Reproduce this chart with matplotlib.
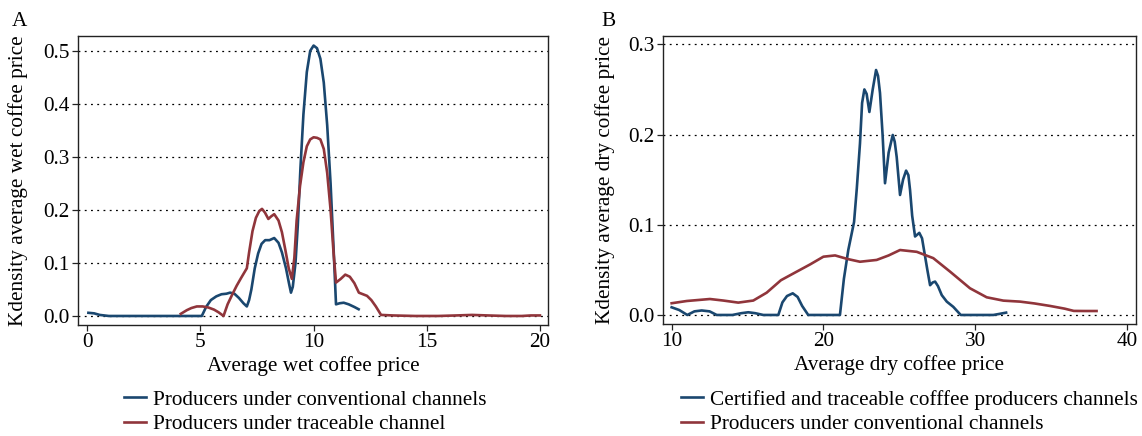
import matplotlib
matplotlib.use("Agg")
import matplotlib.pyplot as plt

# ---------------- data ----------------
# Panel A: average wet coffee price
wet_conv_x = [0.05, 0.3, 0.55, 0.95, 2.0, 3.0, 4.0, 5.06, 5.25, 5.46, 5.7, 5.93, 6.15, 6.31, 6.5, 6.7, 6.9, 7.05,
              7.15, 7.25, 7.4, 7.55, 7.7, 7.86, 8.05, 8.26, 8.45, 8.6, 8.78, 8.92, 9.0, 9.08, 9.2, 9.3, 9.42,
              9.55, 9.7, 9.85, 10.0, 10.15, 10.3, 10.45, 10.6, 10.75, 10.88, 10.99, 11.15, 11.33, 11.55, 11.8, 11.99]
wet_conv_y = [0.006, 0.005, 0.002, 0.0, 0.0, 0.0, 0.0, 0.0, 0.017, 0.03, 0.037, 0.041, 0.042, 0.044, 0.042, 0.034,
              0.024, 0.018, 0.03, 0.05, 0.09, 0.118, 0.136, 0.143, 0.143, 0.147, 0.138, 0.12, 0.09, 0.06, 0.044,
              0.055, 0.1, 0.17, 0.28, 0.38, 0.46, 0.5, 0.51, 0.505, 0.485, 0.44, 0.36, 0.25, 0.13, 0.022, 0.024,
              0.025, 0.022, 0.017, 0.0127]

wet_trace_x = [4.13, 4.4, 4.6, 4.84, 5.1, 5.35, 5.6, 5.8, 6.02, 6.2, 6.4, 6.6, 6.8, 7.05, 7.15, 7.3, 7.45, 7.6,
               7.72, 7.85, 8.0, 8.13, 8.26, 8.45, 8.6, 8.75, 8.9, 9.04, 9.15, 9.25, 9.4, 9.55, 9.7, 9.85, 10.0,
               10.15, 10.3, 10.45, 10.6, 10.75, 10.88, 10.99, 11.2, 11.4, 11.6, 11.8, 12.0, 12.18, 12.36, 12.55,
               12.75, 12.98, 13.5, 14.5, 15.5, 16.3, 17.0, 17.7, 18.5, 19.2, 19.6, 20.0]
wet_trace_y = [0.004, 0.011, 0.015, 0.018, 0.018, 0.016, 0.012, 0.007, 0.0, 0.022, 0.04, 0.057, 0.072, 0.09,
               0.12, 0.16, 0.185, 0.198, 0.202, 0.195, 0.183, 0.188, 0.192, 0.18, 0.158, 0.125, 0.09, 0.07, 0.11,
               0.18, 0.245, 0.29, 0.32, 0.333, 0.337, 0.336, 0.333, 0.315, 0.27, 0.2, 0.12, 0.063, 0.07, 0.078,
               0.074, 0.062, 0.044, 0.041, 0.038, 0.03, 0.018, 0.002, 0.001, 0.0, 0.0, 0.001, 0.002, 0.001, 0.0,
               0.0, 0.001, 0.001]

# Panel B: average dry coffee price
dry_cert_x = [10.0, 10.5, 11.03, 11.5, 11.98, 12.5, 12.97, 14.0, 14.6, 15.05, 15.5, 16.04, 17.03, 17.3, 17.6,
              17.98, 18.3, 18.6, 19.0, 21.09, 21.35, 21.64, 22.02, 22.2, 22.41, 22.55, 22.7, 22.85, 23.03, 23.25,
              23.47, 23.6, 23.73, 23.9, 24.06, 24.3, 24.57, 24.7, 24.83, 25.05, 25.25, 25.45, 25.6, 25.71, 25.85,
              26.04, 26.32, 26.5, 26.63, 26.85, 27.03, 27.2, 27.36, 27.55, 27.8, 28.13, 28.56, 29.05, 31.2,
              31.6, 32.04]
dry_cert_y = [0.0085, 0.0055, 0.0, 0.004, 0.005, 0.004, 0.0, 0.0, 0.002, 0.003, 0.002, 0.0, 0.0, 0.014, 0.021,
              0.024, 0.02, 0.01, 0.0, 0.0, 0.04, 0.072, 0.103, 0.14, 0.19, 0.235, 0.25, 0.245, 0.225, 0.25, 0.2715,
              0.265, 0.246, 0.2, 0.146, 0.18, 0.1995, 0.192, 0.175, 0.133, 0.15, 0.16, 0.155, 0.1385, 0.11, 0.087,
              0.091, 0.085, 0.072, 0.05, 0.033, 0.036, 0.037, 0.032, 0.022, 0.0148, 0.009, 0.0, 0.0, 0.0012, 0.0026]

dry_conv_x = [10.0, 11.0, 12.52, 13.4, 14.39, 15.38, 16.26, 17.2, 18.02, 19.12, 20.0, 20.77, 21.6, 22.41, 23.51,
              24.3, 25.05, 26.15, 27.24, 28.35, 29.66, 30.76, 31.86, 32.96, 33.9, 34.94, 35.9, 36.5, 37.2, 38.0]
dry_conv_y = [0.013, 0.0155, 0.0177, 0.016, 0.0137, 0.016, 0.0247, 0.0385, 0.046, 0.056, 0.0646, 0.066, 0.062,
              0.059, 0.061, 0.066, 0.072, 0.070, 0.063, 0.048, 0.0296, 0.0196, 0.0159, 0.0148, 0.0128, 0.0100,
              0.007, 0.0045, 0.0044, 0.0044]

wet_xticks = [0, 5, 10, 15, 20]
wet_yticks = [0.0, 0.1, 0.2, 0.3, 0.4, 0.5]
dry_xticks = [10, 20, 30, 40]
dry_yticks = [0.0, 0.1, 0.2, 0.3]

# ---------------- style ----------------
plt.rcParams['font.family'] = ['Liberation Serif', 'DejaVu Serif']
FS = 15.3
BLUE = '#1a476f'
RED = '#90353b'
LW = 1.9

fig = plt.figure(figsize=(11.42, 4.36), dpi=100)
W, H = 1142, 436


def make_axes(l, r, t, b):
    return fig.add_axes([l / W, 1 - b / H, (r - l) / W, (b - t) / H])


def style(ax, xticks, yticks, xlim, ylim, xlabel, ylabel, ylab_x):
    ax.set_xlim(*xlim)
    ax.set_ylim(*ylim)
    ax.set_xticks(xticks)
    ax.set_xticklabels([str(v) for v in xticks])
    ax.set_yticks(yticks)
    ax.set_yticklabels([f"{v:.1f}" for v in yticks])
    for yv in yticks:
        ax.axhline(yv, color='black', lw=0.9, ls=(0, (1.5, 3.5)), zorder=0)
    for s in ax.spines.values():
        s.set_color('#222222')
        s.set_linewidth(1.0)
    ax.tick_params(axis='both', direction='out', length=4, width=0.9, color='#222222',
                   labelsize=FS, pad=2)
    ax.set_xlabel(xlabel, fontsize=FS, labelpad=3)
    ax.set_ylabel(ylabel, fontsize=FS)
    ax.yaxis.set_label_coords(ylab_x, 0.5)


# Panel A
axA = make_axes(78, 548.3, 36, 325)
lA1, = axA.plot(wet_conv_x, wet_conv_y, color=BLUE, lw=LW, solid_joinstyle='round')
lA2, = axA.plot(wet_trace_x, wet_trace_y, color=RED, lw=LW, solid_joinstyle='round')
style(axA, wet_xticks, wet_yticks, (-0.41, 20.37), (-0.017, 0.528),
      'Average wet coffee price', 'Kdensity average wet coffee price', (28 - 78) / (548.3 - 78))
fig.text(12 / W, 1 - 21 / H, 'A', fontsize=FS, va='center', ha='left')
fig.legend([lA1, lA2], ['Producers under conventional channels', 'Producers under traceable channel'],
           loc='upper left', bbox_to_anchor=(124 / W, 1 - 390 / H), frameon=False, fontsize=FS,
           handlelength=1.05, handletextpad=0.3, labelspacing=0.2, borderpad=0, borderaxespad=0)

# Panel B
axB = make_axes(662.7, 1136, 36, 324)
lB1, = axB.plot(dry_cert_x, dry_cert_y, color=BLUE, lw=LW, solid_joinstyle='round')
lB2, = axB.plot(dry_conv_x, dry_conv_y, color=RED, lw=LW, solid_joinstyle='round')
style(axB, dry_xticks, dry_yticks, (9.41, 40.6), (-0.01, 0.3092),
      'Average dry coffee price', 'Kdensity average dry coffee price', (615 - 662.7) / (1136 - 662.7))
fig.text(601 / W, 1 - 21 / H, 'B', fontsize=FS, va='center', ha='left')
fig.legend([lB1, lB2], ['Certified and traceable cofffee producers channels', 'Producers under conventional channels'],
           loc='upper left', bbox_to_anchor=(681 / W, 1 - 390 / H), frameon=False, fontsize=FS,
           handlelength=1.05, handletextpad=0.3, labelspacing=0.2, borderpad=0, borderaxespad=0)

fig.savefig('out.png', dpi=100)
